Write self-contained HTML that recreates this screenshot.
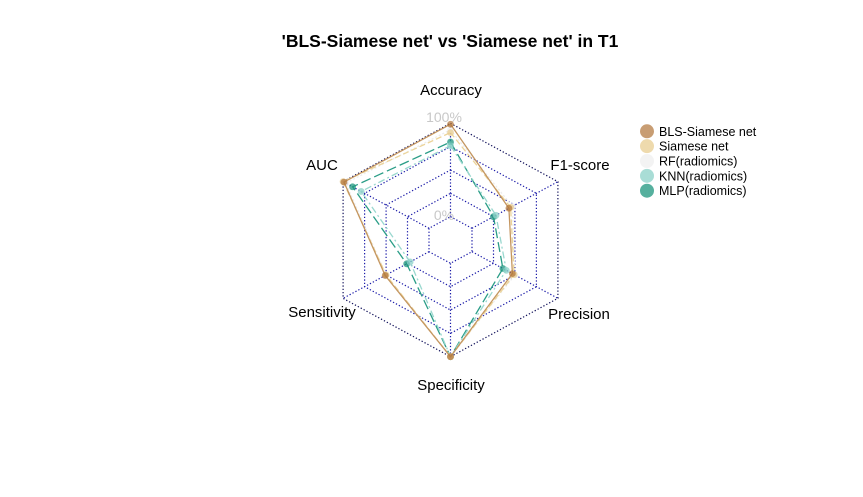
<!DOCTYPE html>
<html><head><meta charset="utf-8"><style>
body{margin:0;background:#fff;}
svg{display:block;font-family:"Liberation Sans",sans-serif;}
</style></head><body>
<svg id="chart" width="863" height="497" viewBox="0 0 863 497">
<rect width="863" height="497" fill="#fff"/>
<text x="450" y="47" text-anchor="middle" font-size="17.5" font-weight="bold">'BLS-Siamese net' vs 'Siamese net' in T1</text>
<g id="grid"></g>
<g id="series"></g>
<g id="labels"></g>
<g id="legend"></g>
</svg>
<script>
const axes = ["Accuracy","F1-score","Precision","Specificity","Sensitivity","AUC"];
const seriesNames = ["BLS-Siamese net","Siamese net","RF(radiomics)","KNN(radiomics)","MLP(radiomics)"];
const blsValues = [0.99,0.43,0.47,1.0,0.51,0.99];
const siameseValues = [0.90,0.45,0.49,1.0,0.50,1.0];
const rfValues = [0.93,0.47,0.50,1.0,0.50,0.97];
const knnValues = [0.76,0.28,0.40,1.0,0.22,0.79];
const mlpValues = [0.80,0.25,0.36,1.0,0.26,0.89];
const allValues = [blsValues,siameseValues,rfValues,knnValues,mlpValues];
const lineColors = ["#c49660","#ecd49a","#ececec","#9ad8cf","#2a9d87"];
const pointColors = ["rgba(176,115,55,0.7)","rgba(232,205,145,0.75)","rgba(240,240,240,0.8)","rgba(140,210,200,0.75)","rgba(30,150,125,0.75)"];
const dashes = ["","6,3","2,2","7,3,2,3","10,4"];
const NS="http://www.w3.org/2000/svg";
const cx=450.5, cy=240, rx=124, ry=116.7;
function ang(i){return Math.PI/2 - i*Math.PI/3;}
function px(i,f){return cx+rx*f*Math.cos(ang(i));}
function py(i,f){return cy-ry*f*Math.sin(ang(i));}
function frac(v){return (1+4*v)/5;}
function mk(tag,attrs,parent){const e=document.createElementNS(NS,tag);for(const k in attrs)e.setAttribute(k,attrs[k]);parent.appendChild(e);return e;}
const grid=document.getElementById('grid');
for(let k=1;k<=5;k++){
  const pts=axes.map((a,i)=>px(i,k/5).toFixed(1)+","+py(i,k/5).toFixed(1)).join(" ");
  const p=mk('polygon',{points:pts,fill:"none",stroke:k==5?"#10105a":"#1a1aa8","stroke-width":1.2,"stroke-dasharray":"1.3,2"},grid);
  
  
}
axes.forEach((a,i)=>{
  const l=mk('line',{x1:px(i,0.2),y1:py(i,0.2),x2:px(i,1),y2:py(i,1),stroke:"#1a1aa8","stroke-width":1.2,"stroke-dasharray":"1.3,2"},grid);
  
  
});
const t1=mk('text',{x:444,y:122,"text-anchor":"middle","font-size":14,fill:"#c8c8c8"},grid);t1.textContent="100%";


const t0=mk('text',{x:444,y:220,"text-anchor":"middle","font-size":14,fill:"#c8c8c8"},grid);t0.textContent="0%";


const sg=document.getElementById('series');
for(let s=allValues.length-1;s>=0;s--){
  const vals=allValues[s];
  const pts=vals.map((v,i)=>px(i,frac(v)).toFixed(1)+","+py(i,frac(v)).toFixed(1)).join(" ");
  const pg=mk('polygon',{points:pts,fill:"none",stroke:lineColors[s],"stroke-width":1.3,"stroke-dasharray":dashes[s]},sg);
  
  
  vals.forEach((v,i)=>{
    const c=mk('circle',{cx:px(i,frac(v)),cy:py(i,frac(v)),r:3.4,fill:pointColors[s]},sg);
    
    
  });
}
const lg=document.getElementById('labels');
const labelPos=[[451,95,"middle"],[580,170,"middle"],[579,319,"middle"],[451,390,"middle"],[322,317,"middle"],[322,170,"middle"]];
axes.forEach((a,i)=>{
  const t=mk('text',{x:labelPos[i][0],y:labelPos[i][1],"text-anchor":labelPos[i][2],"font-size":15},lg);
  t.textContent=a;
  
  
});
const leg=document.getElementById('legend');
seriesNames.forEach((n,s)=>{
  const y=131.3+s*14.85;
  const c=mk('circle',{cx:647,cy:y,r:7,fill:pointColors[s]},leg);
  
  
  const t=mk('text',{x:659,y:y+4.5,"font-size":12.5},leg);
  t.textContent=n;
  
  
});
</script>
</body></html>
